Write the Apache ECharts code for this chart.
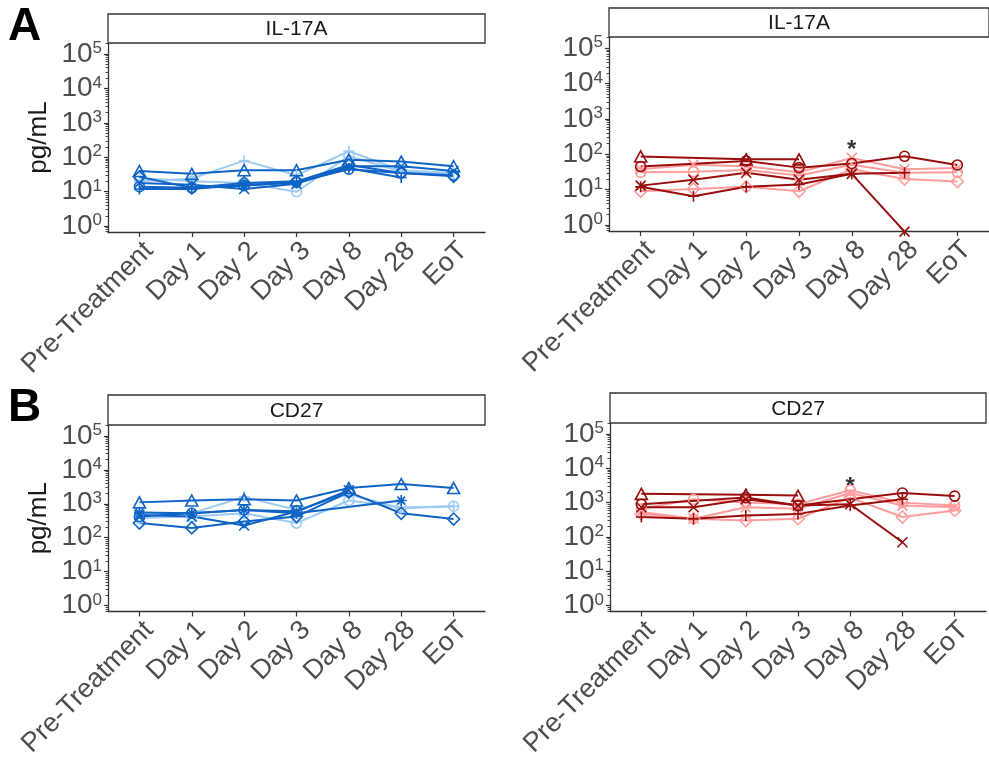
<!DOCTYPE html>
<html>
<head>
<meta charset="utf-8">
<script src="https://cdn.jsdelivr.net/npm/echarts@6/dist/echarts.min.js"></script>
<style>
  html, body { margin: 0; padding: 0; background: #ffffff; }
  #chart { width: 989px; height: 760px; }
</style>
</head>
<body>
<div id="chart"></div>
<script>
// ---- data -------------------------------------------------------------
const timepoints = ['Pre-Treatment', 'Day 1', 'Day 2', 'Day 3', 'Day 8', 'Day 28', 'EoT'];
const decadeTicks = [1, 10, 100, 1000, 10000, 100000];

// IL-17A (pg/mL), blue group; null = no sample at that visit
const il17aBlueTriangle     = [40, 33, 42, 42, 85, 75, 55];
const il17aBlueLightPlus    = [20, 24, 80, 30, 150, 42, 35];
const il17aBlueLightCircle  = [25, 20, 18, 10, 110, 38, 32];
const il17aBlueDiamond      = [27, 13, 18, 20, 60, 35, 28];
const il17aBluePlus         = [12, 12, 16, 18, 48, 26, null];
const il17aBlueCross        = [18, 16, 12, 17, 55, 55, 40];
const il17aBlueCircle       = [14, 13, 15, 19, 45, 35, 30];

// IL-17A (pg/mL), red group
const il17aRedTriangle      = [87, null, 72, 72, null, null, null];
const il17aRedCircle        = [45, null, 65, 42, 55, 88, 50];
const il17aRedCross         = [13, 19, 30, 19, 28, 0.65, null];
const il17aRedPlus          = [12, 6.5, 12, 14, 28, 30, null];
const il17aPinkCross        = [38, 51, 46, 31, 79, 38, 41];
const il17aPinkDiamond      = [9, 10.5, 12, 9, 38, 20, 17];
const il17aPinkCircle       = [31, 32, 36, 25, 51, 30, 31];

// CD27 (pg/mL), blue group
const cd27BlueTriangle      = [1100, 1250, 1350, 1250, 2900, 3800, 2900];
const cd27BlueLightPlus     = [525, 525, 1600, 660, 1900, 735, 850];
const cd27BlueLightCircle   = [380, 420, 525, 270, 1250, 780, 850];
const cd27BlueDiamond       = [270, 195, 300, 420, 2200, 525, 355];
const cd27BlueCross         = [470, 420, 230, 590, 2500, null, null];
const cd27BlueAsterisk      = [550, 525, 660, 525, null, 1250, null];
const cd27BlueCircle        = [420, 525, 660, 600, 2300, null, null];

// CD27 (pg/mL), red group
const cd27RedTriangle       = [1800, null, 1700, 1600, null, null, null];
const cd27RedCircle         = [900, null, 1400, 820, null, 1900, 1550];
const cd27RedCross          = [735, 735, 1250, 820, 900, 70, null];
const cd27RedPlus           = [380, 340, 420, 470, 820, 1250, null];
const cd27PinkCircle        = [660, 1250, 1000, 900, 2300, 1000, 820];
const cd27PinkDiamond       = [470, 340, 300, 340, 1400, 380, 590];
const cd27PinkCross         = [530, 340, 730, 660, 1900, 820, 730];

// significance marks above Day 8
const il17aStar = [4, 187];
const cd27Star  = [4, 4200];

// ---- styling ----------------------------------------------------------
const FONT = "'Liberation Sans', Arial, sans-serif";
const AXIS_GREY = '#4d4d4d';
const BLUE_DARK = '#0f63c4';
const BLUE_LIGHT = '#9ccbf4';
const RED_DARK = '#990d0d';
const RED_LIGHT = '#ff9c9c';

const SHAPES = {
  triangle: 'triangle',
  circle: 'circle',
  diamond: 'diamond',
  plus: 'path://M5,0L5,10M0,5L10,5',
  cross: 'path://M0,0L10,10M10,0L0,10',
  asterisk: 'path://M5,0L5,10M0,5L10,5M1.5,1.5L8.5,8.5M8.5,1.5L1.5,8.5'
};
const SIZES = { triangle: [12, 11], circle: 10, diamond: 12, plus: 11, cross: 10, asterisk: 11 };

const yMin = Math.pow(10, -0.17);
const yMax = Math.pow(10, 5.32);
const minorTicks = [];
for (let e = -1; e <= 5; e++) {
  for (let m = 2; m <= 9; m++) {
    const v = m * Math.pow(10, e);
    if (v > yMin && v < yMax) minorTicks.push(v);
  }
}

// panel geometry: plot areas and strip headers
const panels = [
  { grid: { left: 108, top: 43, width: 377, height: 189 }, strip: [108, 14, 377, 29], title: 'IL-17A', ylab: true },
  { grid: { left: 609, top: 37, width: 380, height: 194 }, strip: [609, 8, 380, 29], title: 'IL-17A', ylab: false },
  { grid: { left: 108, top: 425, width: 377, height: 191 }, strip: [108, 395, 377, 30], title: 'CD27', ylab: true },
  { grid: { left: 610, top: 423, width: 376, height: 195 }, strip: [610, 393, 376, 30], title: 'CD27', ylab: false }
];

const panelSeries = [
  [
    [il17aBlueLightPlus, 'plus', BLUE_LIGHT], [il17aBlueLightCircle, 'circle', BLUE_LIGHT],
    [il17aBlueTriangle, 'triangle', BLUE_DARK], [il17aBlueDiamond, 'diamond', BLUE_DARK],
    [il17aBluePlus, 'plus', BLUE_DARK], [il17aBlueCross, 'cross', BLUE_DARK], [il17aBlueCircle, 'circle', BLUE_DARK]
  ],
  [
    [il17aPinkCross, 'cross', RED_LIGHT], [il17aPinkDiamond, 'diamond', RED_LIGHT], [il17aPinkCircle, 'circle', RED_LIGHT],
    [il17aRedTriangle, 'triangle', RED_DARK], [il17aRedCircle, 'circle', RED_DARK],
    [il17aRedCross, 'cross', RED_DARK], [il17aRedPlus, 'plus', RED_DARK]
  ],
  [
    [cd27BlueLightPlus, 'plus', BLUE_LIGHT], [cd27BlueLightCircle, 'circle', BLUE_LIGHT],
    [cd27BlueTriangle, 'triangle', BLUE_DARK], [cd27BlueDiamond, 'diamond', BLUE_DARK],
    [cd27BlueCross, 'cross', BLUE_DARK], [cd27BlueAsterisk, 'asterisk', BLUE_DARK], [cd27BlueCircle, 'circle', BLUE_DARK]
  ],
  [
    [cd27PinkCircle, 'circle', RED_LIGHT], [cd27PinkDiamond, 'diamond', RED_LIGHT], [cd27PinkCross, 'cross', RED_LIGHT],
    [cd27RedTriangle, 'triangle', RED_DARK], [cd27RedCircle, 'circle', RED_DARK],
    [cd27RedCross, 'cross', RED_DARK], [cd27RedPlus, 'plus', RED_DARK]
  ]
];

const grids = [], xAxes = [], yAxes = [], series = [], graphics = [];

panels.forEach((p, i) => {
  grids.push(Object.assign({ containLabel: false }, p.grid));

  xAxes.push({
    type: 'value', gridIndex: i, min: -0.6, max: 6.6,
    axisLine: { show: true, onZero: false, lineStyle: { color: '#333333', width: 1.3 } },
    axisTick: { show: true, length: 5, customValues: [0, 1, 2, 3, 4, 5, 6], lineStyle: { color: '#333333', width: 1.2 } },
    axisLabel: {
      customValues: [0, 1, 2, 3, 4, 5, 6],
      formatter: v => timepoints[Math.round(v)],
      rotate: 45, margin: 5, verticalAlign: 'top', align: 'right',
      fontSize: 27, color: AXIS_GREY, fontFamily: FONT
    },
    splitLine: { show: false }
  });

  // decade ticks with labels
  yAxes.push({
    type: 'log', logBase: 10, gridIndex: i, min: yMin, max: yMax,
    axisLine: { show: true, onZero: false, lineStyle: { color: '#333333', width: 1.3 } },
    axisTick: { show: true, length: 4, customValues: decadeTicks, lineStyle: { color: '#333333', width: 1.2 } },
    axisLabel: {
      customValues: decadeTicks, margin: 6,
      formatter: v => '{b|10}{s|' + Math.round(Math.log10(v)) + '}',
      rich: {
        b: { fontSize: 28, color: AXIS_GREY, fontFamily: FONT },
        s: { fontSize: 17, color: AXIS_GREY, fontFamily: FONT, verticalAlign: 'top' }
      }
    },
    splitLine: { show: false },
    name: p.ylab ? 'pg/mL' : '',
    nameLocation: 'middle', nameRotate: 90, nameGap: 56,
    nameTextStyle: { fontSize: 26, color: '#1a1a1a', fontFamily: FONT }
  });
  // intermediate log ticks (2..9 of each decade)
  yAxes.push({
    type: 'log', logBase: 10, gridIndex: i, min: yMin, max: yMax, position: 'left',
    axisLine: { show: false, onZero: false },
    axisTick: { show: true, length: 2.5, customValues: minorTicks, lineStyle: { color: '#333333', width: 0.9 } },
    axisLabel: { show: false },
    splitLine: { show: false }
  });

  panelSeries[i].forEach(([values, shape, colour]) => {
    const pts = [];
    values.forEach((v, k) => { if (v !== null) pts.push([k, v]); });
    series.push({
      type: 'line', xAxisIndex: i, yAxisIndex: 2 * i,
      data: pts,
      symbol: SHAPES[shape], symbolSize: SIZES[shape], symbolKeepAspect: true,
      showAllSymbol: true, clip: false, animation: false,
      lineStyle: { color: colour, width: 2 },
      itemStyle: { color: 'rgba(0,0,0,0)', borderColor: colour, borderWidth: 1.6 },
      emphasis: { disabled: true }
    });
  });

  // strip header
  const [sx, sy, sw, sh] = p.strip;
  graphics.push({
    type: 'rect', shape: { x: sx, y: sy, width: sw, height: sh },
    style: { fill: '#ffffff', stroke: '#333333', lineWidth: 1.3 }, z: 10
  });
  graphics.push({
    type: 'text', x: sx + sw / 2, y: sy + sh / 2 + 1, z: 11,
    style: { text: p.title, fill: '#1a1a1a', font: '21px ' + FONT, textAlign: 'center', textVerticalAlign: 'middle' }
  });
});

// significance marks
[[1, il17aStar], [3, cd27Star]].forEach(([i, pt]) => {
  series.push({
    type: 'scatter', xAxisIndex: i, yAxisIndex: 2 * i, data: [pt],
    symbolSize: 1, itemStyle: { color: 'rgba(0,0,0,0)' }, animation: false, silent: true,
    label: { show: true, position: 'inside', formatter: '*', fontSize: 24, fontWeight: 'bold', color: '#000000', fontFamily: FONT, offset: [0, 6] }
  });
});

// panel letters
graphics.push({ type: 'text', x: 8, y: 4, style: { text: 'A', font: 'bold 46px ' + FONT, fill: '#000000' } });
graphics.push({ type: 'text', x: 8, y: 385, style: { text: 'B', font: 'bold 46px ' + FONT, fill: '#000000' } });

const chart = echarts.init(document.getElementById('chart'), null, { renderer: 'canvas' });
chart.setOption({
  backgroundColor: '#ffffff',
  animation: false,
  grid: grids,
  xAxis: xAxes,
  yAxis: yAxes,
  series: series,
  graphic: graphics
});
</script>
</body>
</html>
